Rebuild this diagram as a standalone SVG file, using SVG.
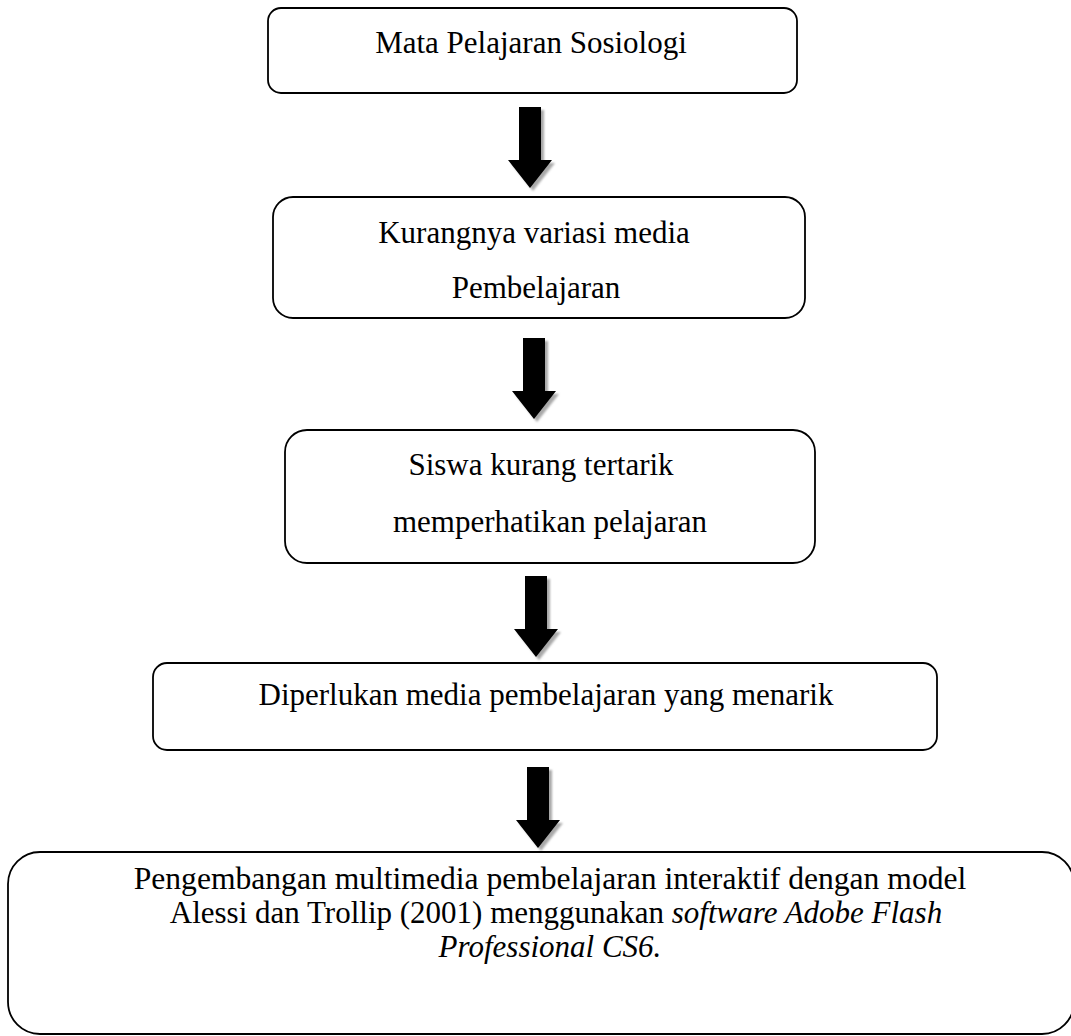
<svg xmlns="http://www.w3.org/2000/svg" width="1071" height="1036" viewBox="0 0 1071 1036">
<style>
.box{fill:#fff;stroke:#000;stroke-width:1.8}
.t{font-family:"Liberation Serif","Times New Roman",serif;font-size:31px;fill:#000;text-anchor:middle}
.i{font-style:italic}
.arrow{fill:#000}
.shadow{fill:#a8a8a8}
</style>
<defs>
<path id="arr" d="M -11 0 H 11 V 53 H 22 L 0 81 L -22 53 H -11 Z"/>
<filter id="blur" x="-50%" y="-50%" width="200%" height="200%"><feGaussianBlur stdDeviation="0.8"/></filter>
</defs>
<rect width="1071" height="1036" fill="#fff"/>
<g id="connectors">
<g transform="translate(530,107)"><use href="#arr" class="shadow" x="3" y="3" filter="url(#blur)"/><use href="#arr" class="arrow"/></g>
<g transform="translate(534,338)"><use href="#arr" class="shadow" x="3" y="3" filter="url(#blur)"/><use href="#arr" class="arrow"/></g>
<g transform="translate(536,576)"><use href="#arr" class="shadow" x="3" y="3" filter="url(#blur)"/><use href="#arr" class="arrow"/></g>
<g transform="translate(538,767)"><use href="#arr" class="shadow" x="3" y="3" filter="url(#blur)"/><use href="#arr" class="arrow"/></g>
</g>
<g id="node1">
<rect class="box" x="268" y="8" width="529" height="85" rx="13"/>
<text class="t" x="531" y="53">Mata Pelajaran Sosiologi</text>
</g>
<g id="node2">
<rect class="box" x="273" y="197" width="532" height="121" rx="20"/>
<text class="t" x="534" y="243">Kurangnya variasi media</text>
<text class="t" x="536" y="298">Pembelajaran</text>
</g>
<g id="node3">
<rect class="box" x="285" y="430" width="530" height="133" rx="22"/>
<text class="t" x="541" y="475">Siswa kurang tertarik</text>
<text class="t" x="550" y="532">memperhatikan pelajaran</text>
</g>
<g id="node4">
<rect class="box" x="153" y="663" width="784" height="87" rx="14"/>
<text class="t" x="546" y="705">Diperlukan media pembelajaran yang menarik</text>
</g>
<g id="node5">
<rect class="box" x="8" y="852" width="1066" height="182" rx="32"/>
<text class="t" x="550" y="889" style="font-size:31.6px">Pengembangan multimedia pembelajaran interaktif dengan model</text>
<text class="t" x="556" y="923">Alessi dan Trollip (2001) menggunakan <tspan class="i">software Adobe Flash</tspan></text>
<text class="t i" x="550" y="957">Professional CS6.</text>
</g>
</svg>
